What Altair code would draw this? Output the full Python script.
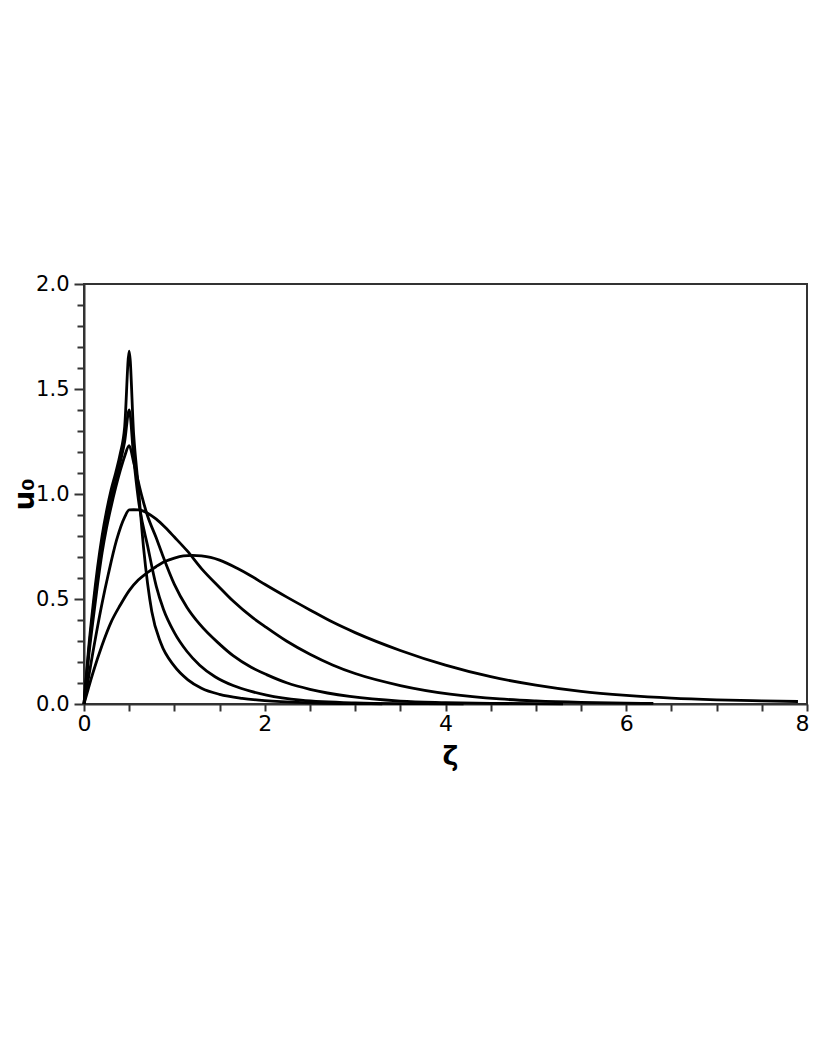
import altair as alt
import pandas as pd

# Curve 1 (sharpest peak)
c1_z = [0, 0.05, 0.1, 0.15, 0.2, 0.25, 0.3, 0.35, 0.4, 0.45, 0.5, 0.55, 0.6, 0.66, 0.75, 0.85,
        1.0, 1.15, 1.3, 1.5, 1.75, 2.0, 2.5, 3.0, 3.3]
c1_u = [0, 0.26, 0.47, 0.65, 0.80, 0.92, 1.02, 1.10, 1.19, 1.32, 1.68, 1.28, 1.04, 0.74, 0.44, 0.29,
        0.18, 0.115, 0.075, 0.046, 0.027, 0.016, 0.006, 0.002, 0.001]

# Curve 2
c2_z = [0, 0.05, 0.1, 0.15, 0.2, 0.25, 0.3, 0.35, 0.4, 0.45, 0.5, 0.55, 0.6, 0.71, 0.8, 0.88,
        1.0, 1.14, 1.28, 1.45, 1.65, 1.85, 2.02, 2.4, 3.0, 3.5, 4.2]
c2_u = [0, 0.24, 0.44, 0.62, 0.77, 0.88, 0.98, 1.06, 1.15, 1.25, 1.40, 1.17, 0.98, 0.74, 0.56, 0.45,
        0.34, 0.25, 0.185, 0.13, 0.088, 0.06, 0.042, 0.018, 0.005, 0.002, 0.001]

# Curve 3
c3_z = [0, 0.05, 0.1, 0.15, 0.2, 0.25, 0.3, 0.35, 0.4, 0.45, 0.5, 0.55, 0.6, 0.64, 0.7, 0.8, 0.86,
        1.0, 1.14, 1.28, 1.5, 1.65, 1.85, 2.02, 2.25, 2.5, 2.94, 3.5, 4.0, 4.5, 5.3]
c3_u = [0, 0.22, 0.40, 0.57, 0.72, 0.84, 0.94, 1.03, 1.11, 1.18, 1.23, 1.15, 1.06, 0.99, 0.90, 0.79, 0.72,
        0.57, 0.46, 0.38, 0.285, 0.23, 0.175, 0.14, 0.10, 0.07, 0.036, 0.014, 0.007, 0.003, 0.001]

# Curve 4 (flat top)
c4_z = [0, 0.1, 0.2, 0.27, 0.36, 0.45, 0.5, 0.55, 0.6, 0.65, 0.7, 0.8, 0.9, 1.0, 1.14, 1.3, 1.5, 1.65,
        1.87, 2.0, 2.24, 2.5, 2.75, 3.0, 3.5, 4.05, 4.6, 5.0, 5.5, 6.0, 6.3]
c4_u = [0, 0.25, 0.48, 0.62, 0.78, 0.89, 0.924, 0.925, 0.924, 0.92, 0.91, 0.88, 0.84, 0.795, 0.73, 0.645, 0.555, 0.49,
        0.41, 0.37, 0.30, 0.237, 0.186, 0.145, 0.088, 0.047, 0.024, 0.015, 0.008, 0.004, 0.003]

# Curve 5 (widest)
c5_z = [0, 0.1, 0.2, 0.3, 0.4, 0.5, 0.6, 0.7, 0.8, 0.9, 1.0, 1.1, 1.2, 1.3, 1.4, 1.5, 1.7, 1.84,
        2.0, 2.24, 2.5, 2.75, 3.0, 3.5, 4.0, 4.5, 5.0, 5.5, 6.0, 6.5, 7.0, 7.5, 7.9]
c5_u = [0, 0.15, 0.28, 0.39, 0.47, 0.54, 0.59, 0.625, 0.655, 0.68, 0.695, 0.705, 0.708, 0.705, 0.698, 0.685,
        0.645, 0.612, 0.57, 0.51, 0.448, 0.39, 0.34, 0.255, 0.185, 0.13, 0.09, 0.06, 0.041, 0.028, 0.02,
        0.015, 0.012]

x_ticks = [i * 0.5 for i in range(17)]
y_ticks = [round(i * 0.1, 1) for i in range(21)]

rows = []
for name, zs, us in [("c1", c1_z, c1_u), ("c2", c2_z, c2_u), ("c3", c3_z, c3_u),
                     ("c4", c4_z, c4_u), ("c5", c5_z, c5_u)]:
    for i, (z, u) in enumerate(zip(zs, us)):
        rows.append({"curve": name, "zeta": z, "u": u, "idx": i})
df = pd.DataFrame(rows)

major_y = "abs(datum.value*2 - round(datum.value*2)) < 0.001"
last_x = "datum.value == 8"

chart = alt.Chart(df).mark_line(color="black", strokeWidth=2.8, strokeJoin="round",
                                interpolate="monotone").encode(
    x=alt.X("zeta:Q", scale=alt.Scale(domain=[0, 8], nice=False, zero=False),
            axis=alt.Axis(values=x_ticks, title="ζ", grid=False,
                          labelExpr="datum.value % 2 == 0 ? format(datum.value, 'd') : ''",
                          labelFont="DejaVu Sans", labelFontSize=22, labelColor="black",
                          labelFlush=False, labelOverlap=False, labelPadding=2,
                          labelAlign={"condition": {"test": last_x, "value": "right"}, "value": "center"},
                          labelOffset={"condition": {"test": last_x, "value": 2}, "value": 0},
                          tickSize=7, tickWidth=2, tickColor="#333",
                          domainColor="#333", domainWidth=2,
                          titleFont="DejaVu Sans", titleFontSize=27, titleFontWeight="bold",
                          titleColor="black", titleBaseline="alphabetic", titleY=60, titleX=366)),
    y=alt.Y("u:Q", scale=alt.Scale(domain=[0, 2], nice=False),
            axis=alt.Axis(values=y_ticks, title="u₀", grid=False,
                          labelExpr=major_y + " ? format(datum.value, '.1f') : ''",
                          labelFont="DejaVu Sans", labelFontSize=21, labelColor="black",
                          labelFlush=False, labelOverlap=False, labelPadding=5,
                          tickSize={"condition": {"test": major_y, "value": 10}, "value": 7},
                          tickWidth=2, tickColor="#333",
                          domainColor="#333", domainWidth=2,
                          titleFont="DejaVu Sans", titleFontSize=28, titleFontWeight="bold",
                          titleColor="black", titleAngle=-90, titleBaseline="alphabetic",
                          titleAlign="center", titleX=-51, titleY=210)),
    detail="curve:N",
    order="idx:Q",
).properties(
    width=723,
    height=420,
    autosize=alt.AutoSizeParams(type="none"),
    padding={"left": 76, "top": 276, "right": 2, "bottom": 100},
).configure_view(stroke="#333", strokeWidth=2)

chart.save("out.html", embed_options={"renderer": "svg", "actions": False})
